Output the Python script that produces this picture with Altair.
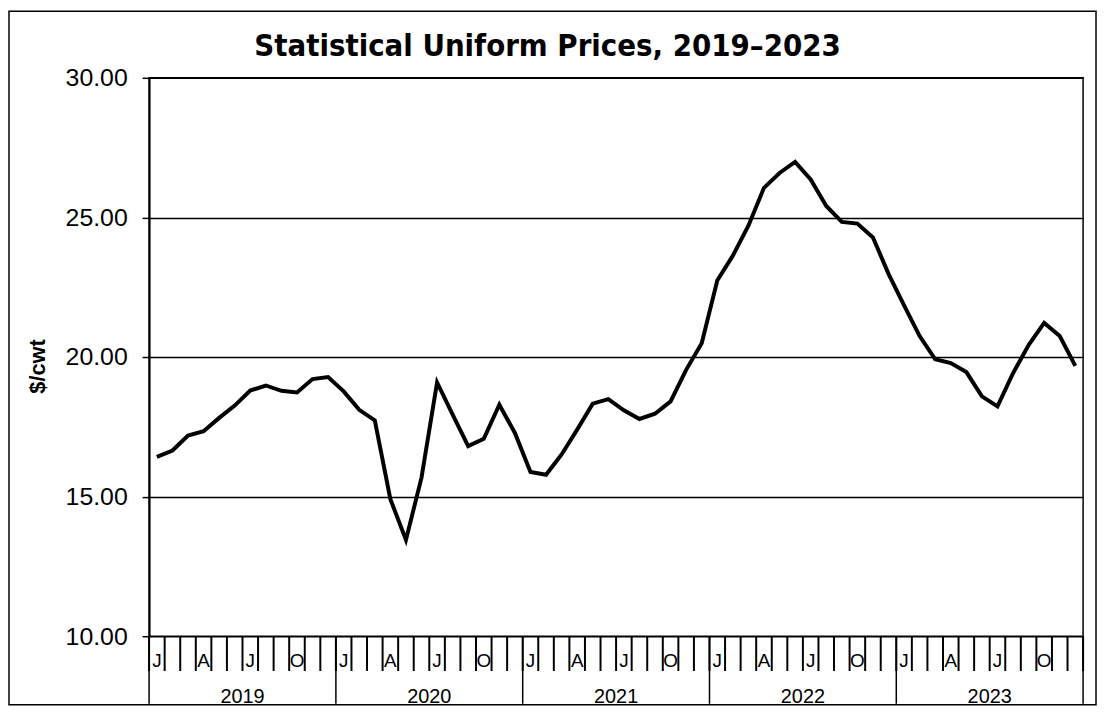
import altair as alt
import pandas as pd

title_text = "Statistical Uniform Prices, 2019\u20132023"
years = ["2019", "2020", "2021", "2022", "2023"]
month_tick_labels = ["J", "A", "J", "O"]
month_tick_pos = [0, 3, 6, 9]

v2019 = [16.42, 16.65, 17.19, 17.34, 17.82, 18.26, 18.80, 18.98, 18.79, 18.73, 19.21, 19.28]
v2020 = [18.77, 18.11, 17.73, 14.91, 13.45, 15.68, 19.09, 17.94, 16.81, 17.07, 18.29, 17.28]
v2021 = [15.88, 15.78, 16.51, 17.40, 18.33, 18.49, 18.09, 17.78, 17.97, 18.41, 19.54, 20.49]
v2022 = [22.74, 23.63, 24.70, 26.06, 26.59, 26.99, 26.36, 25.41, 24.84, 24.78, 24.28, 22.98]
v2023 = [21.85, 20.75, 19.92, 19.78, 19.46, 18.59, 18.23, 19.42, 20.43, 21.22, 20.75, 19.68]

y_ticks = [10, 15, 20, 25, 30]

W, H = 940, 562
FONT = "Liberation Sans"

values = v2019 + v2020 + v2021 + v2022 + v2023
df = pd.DataFrame({"pos": [i + 0.5 for i in range(len(values))], "price": values})

xscale = alt.Scale(domain=[0, 12 * len(years)], nice=False, zero=False)
yscale = alt.Scale(domain=[10, 30], nice=False, zero=False)

line = alt.Chart(df).mark_line(color="black", strokeWidth=4, strokeJoin="miter").encode(
    x=alt.X("pos:Q", scale=xscale, axis=None),
    y=alt.Y(
        "price:Q",
        scale=yscale,
        title="$/cwt",
        axis=alt.Axis(
            values=y_ticks,
            format=".2f",
            grid=True,
            gridColor="black",
            gridWidth=1.5,
            domainColor="black",
            domainWidth=2,
            tickColor="black",
            tickWidth=1.5,
            tickSize=7,
            labelFont=FONT,
            labelFontSize=25,
            labelColor="black",
            labelPadding=15,
            titleFont=FONT,
            titleFontSize=22,
            titleFontWeight="bold",
            titleColor="black",
            titlePadding=16,
            titleY=290,
        ),
    ),
)

# month separators
sep_df = pd.DataFrame({"b": list(range(0, 12 * len(years) + 1))})
month_sep = alt.Chart(sep_df).mark_rule(color="black", strokeWidth=2).encode(
    x=alt.X("b:Q", scale=xscale, axis=None),
    y=alt.value(H),
    y2=alt.value(H + 35),
)

year_df = pd.DataFrame({"b": [12 * j for j in range(len(years) + 1)]})
year_sep = alt.Chart(year_df).mark_rule(color="black", strokeWidth=1.5).encode(
    x=alt.X("b:Q", scale=xscale, axis=None),
    y=alt.value(H),
    y2=alt.value(H + 68),
)

ml_rows = []
for j in range(len(years)):
    for p, lab in zip(month_tick_pos, month_tick_labels):
        ml_rows.append({"pos": 12 * j + p + 0.5, "lab": lab})
ml_df = pd.DataFrame(ml_rows)
month_text = alt.Chart(ml_df).mark_text(
    font=FONT, fontSize=19, color="black", baseline="middle", align="center"
).encode(
    x=alt.X("pos:Q", scale=xscale, axis=None),
    y=alt.value(H + 25),
    text="lab:N",
)

yl_df = pd.DataFrame({"pos": [12 * j + 6 for j in range(len(years))], "lab": years})
year_text = alt.Chart(yl_df).mark_text(
    font=FONT, fontSize=20, color="black", baseline="middle", align="center"
).encode(
    x=alt.X("pos:Q", scale=xscale, axis=None),
    y=alt.value(H + 61),
    text="lab:N",
)

frame_df = pd.DataFrame({"k": [0]})
frame = alt.Chart(frame_df).mark_rect(filled=False, stroke="black", strokeWidth=1.5).encode(
    x=alt.value(-141),
    x2=alt.value(W + 13),
    y=alt.value(-67),
    y2=alt.value(H + 69),
)

title_df = pd.DataFrame({"t": [title_text]})
title = alt.Chart(title_df).mark_text(
    font="DejaVu Sans Condensed", fontSize=31, fontWeight="bold", color="black",
    align="center", baseline="middle",
).encode(
    x=alt.value(401),
    y=alt.value(-31),
    text="t:N",
)

chart = alt.layer(frame, title, month_sep, year_sep, month_text, year_text, line).properties(
    width=W,
    height=H,
    padding={"left": 142, "top": 68, "right": 14, "bottom": 70},
    autosize=alt.AutoSizeParams(type="none"),
).configure_view(stroke="black", strokeWidth=1.5)

chart.save("out.html", embed_options={"renderer": "svg", "actions": False})
